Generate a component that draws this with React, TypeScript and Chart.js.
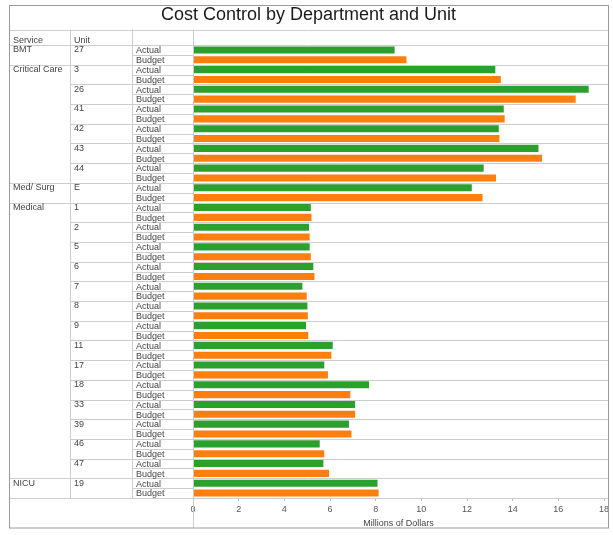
import React, { useEffect, useRef } from "react";
import Chart from "chart.js/auto";

const title = "Cost Control by Department and Unit";
const axisTitle = "Millions of Dollars";
const services = ["BMT", "Critical Care", "Med/ Surg", "Medical", "NICU"];
const serviceSpans = [1, 6, 1, 14, 1];
const units = ["27", "3", "26", "41", "42", "43", "44", "E", "1", "2", "5", "6", "7", "8", "9", "11", "17", "18", "33", "39", "46", "47", "19"];
const actual = [8.83, 13.24, 17.33, 13.61, 13.39, 15.13, 12.73, 12.21, 5.16, 5.08, 5.11, 5.27, 4.79, 5.01, 4.95, 6.12, 5.75, 7.71, 7.1, 6.83, 5.55, 5.71, 8.08];
const budget = [9.35, 13.48, 16.76, 13.65, 13.42, 15.29, 13.27, 12.68, 5.19, 5.11, 5.16, 5.32, 4.98, 5.03, 5.05, 6.06, 5.91, 6.89, 7.1, 6.94, 5.75, 5.96, 8.13];
const seriesNames = ["Actual", "Budget"];
const seriesColors = ["#2ca02c", "#ff7f0e"];

const FONT = '"Liberation Sans", Arial, sans-serif';

const tablePlugin = {
  id: "costTable",
  afterDraw(chart: any) {
    const { ctx, chartArea, scales } = chart;
    const y = scales.y;
    const rowTop = (i: number) => y.getPixelForValue(i - 0.5);
    const L = 9;
    const R = 608;
    const cService = 70.5;
    const cUnit = 132.5;
    const cBar = Math.round(chartArea.left) + 0.5;
    const headTop = 29.5;
    const bottom = 528;
    const px = (v: number) => Math.round(v) + 0.5;
    const hline = (yy: number, x0: number, x1: number) => {
      ctx.beginPath();
      ctx.moveTo(x0, px(yy));
      ctx.lineTo(x1, px(yy));
      ctx.stroke();
    };
    const vline = (xx: number, y0: number, y1: number) => {
      ctx.beginPath();
      ctx.moveTo(xx, y0);
      ctx.lineTo(xx, y1);
      ctx.stroke();
    };
    ctx.save();
    ctx.lineWidth = 1;
    ctx.strokeStyle = "#cdcdcd";
    hline(headTop, L, R);
    hline(chartArea.top, L, R);
    hline(chartArea.bottom, L, R);
    const serviceStarts: number[] = [];
    let acc = 0;
    serviceSpans.forEach((s) => {
      serviceStarts.push(acc);
      acc += s;
    });
    for (let i = 0; i < units.length; i++) {
      const top = rowTop(i);
      const mid = (rowTop(i) + rowTop(i + 1)) / 2;
      if (i > 0) {
        if (serviceStarts.includes(i)) hline(top, L, R);
        else hline(top, cService, R);
      }
      hline(mid, cUnit, cBar);
    }
    vline(cService, headTop, px(chartArea.bottom));
    vline(cUnit, headTop, px(chartArea.bottom));
    vline(cBar, headTop, bottom);

    ctx.strokeStyle = "#9a9a9a";
    ctx.strokeRect(9.5, 5.5, 599, 522.5);

    ctx.fillStyle = "#444";
    ctx.font = "9px " + FONT;
    ctx.textBaseline = "alphabetic";
    ctx.textAlign = "left";
    ctx.fillText("Service", 13, 43.3);
    ctx.fillText("Unit", 74, 43.3);
    serviceStarts.forEach((s, k) => {
      ctx.fillText(services[k], 13, rowTop(s) + 7.4);
    });
    for (let i = 0; i < units.length; i++) {
      const top = rowTop(i);
      const h = rowTop(i + 1) - top;
      ctx.fillText(units[i], 74, top + 7.4);
      ctx.fillText(seriesNames[0], 136, top + h / 4 + 3.3);
      ctx.fillText(seriesNames[1], 136, top + (3 * h) / 4 + 3.3);
    }
    ctx.restore();
  },
};

export default function App() {
  const ref = useRef<HTMLCanvasElement>(null);
  useEffect(() => {
    document.body.style.margin = "0";
    const canvas = ref.current;
    if (!canvas) return;
    const chart = new Chart(canvas, {
      type: "bar",
      data: {
        labels: units,
        datasets: [
          { label: seriesNames[0], data: actual, backgroundColor: seriesColors[0] },
          { label: seriesNames[1], data: budget, backgroundColor: seriesColors[1] },
        ],
      },
      options: {
        indexAxis: "y",
        responsive: false,
        animation: false,
        devicePixelRatio: 1,
        datasets: { bar: { barPercentage: 0.72, categoryPercentage: 1 } },
        layout: { padding: { left: 13, right: 9, top: 0, bottom: 0 } },
        plugins: {
          legend: { display: false },
          tooltip: { enabled: false },
          title: {
            display: true,
            text: title,
            color: "#1a1a1a",
            font: { family: FONT, size: 18, weight: "normal" },
            padding: { top: 4.5, bottom: 18.9 },
          },
        },
        scales: {
          x: {
            position: "bottom",
            min: 0,
            max: 18,
            ticks: { stepSize: 2, color: "#555", padding: 3, font: { family: FONT, size: 9 } },
            grid: { drawOnChartArea: false, drawTicks: true, tickLength: 3, color: "#bbb" },
            border: { display: true, color: "#cdcdcd" },
            title: {
              display: true,
              text: axisTitle,
              color: "#444",
              font: { family: FONT, size: 9 },
              padding: { top: 0, bottom: 6 },
            },
            afterFit: (scale: any) => {
              scale.height = 37;
            },
          },
          y: {
            display: true,
            ticks: { display: false },
            grid: { display: false },
            border: { display: false },
            afterFit: (scale: any) => {
              scale.width = 180;
            },
          },
        },
      },
      plugins: [tablePlugin],
    });
    return () => chart.destroy();
  }, []);
  return (
    <div style={{ width: 613, height: 535 }}>
      <canvas ref={ref} width={613} height={535} style={{ display: "block" }} />
    </div>
  );
}
